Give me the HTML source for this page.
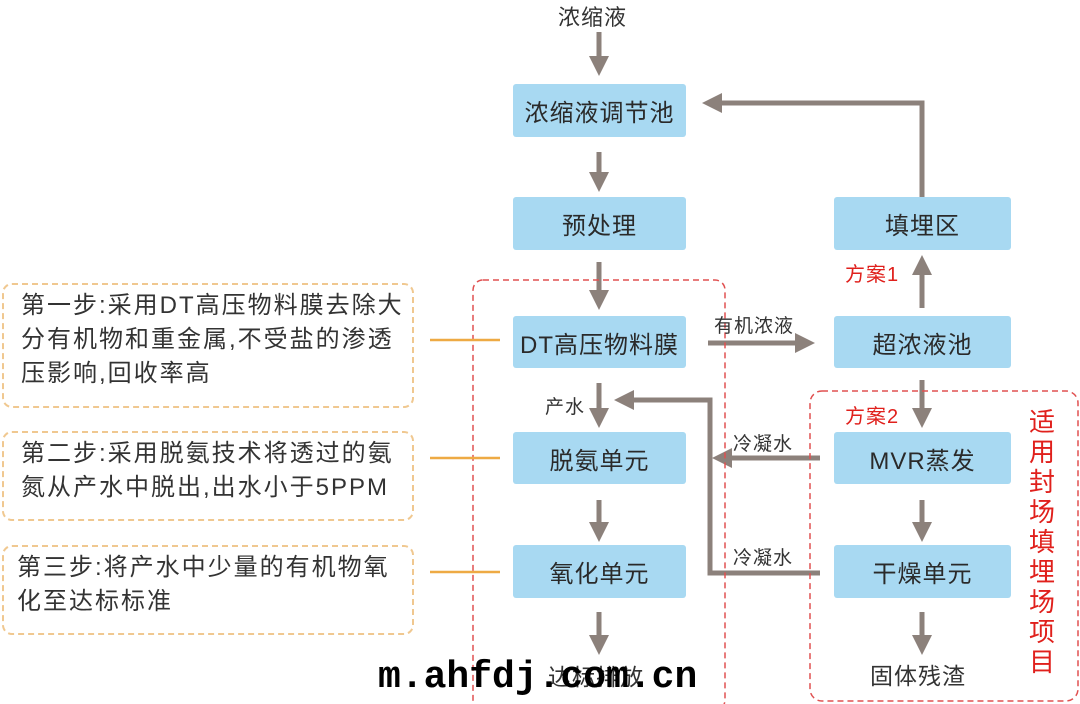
<!DOCTYPE html>
<html><head><meta charset="utf-8"><style>
body{margin:0;width:1080px;height:704px;background:#fff;overflow:hidden;position:relative;font-family:"Liberation Sans","Noto Sans CJK SC",sans-serif;color:#333}
.b{position:absolute;background:#a8d9f2;border-radius:3px;display:flex;align-items:center;justify-content:center;font-size:24px;color:#2a2a2a;letter-spacing:1px}
.l{width:173px;left:513px}.r{width:177px;left:834px}
.t{position:absolute;font-size:19px;color:#333;white-space:nowrap;letter-spacing:1px}
.red{color:#e0201c}
.o{position:absolute;left:2px;width:412px;border:2px dashed #f0c890;border-radius:10px;font-size:24px;line-height:34px;box-sizing:border-box;padding:4px 0 0 17px;color:#333;letter-spacing:2px;white-space:nowrap}
</style></head><body>
<svg width="1080" height="704" style="position:absolute;left:0;top:0">
<defs><marker id="a" markerWidth="4" markerHeight="4" refX="2" refY="2" orient="auto" markerUnits="strokeWidth"><path d="M0,0L4,2L0,4Z" fill="#8c817b"/></marker></defs>
<g stroke="#8c817b" stroke-width="5" fill="none" marker-end="url(#a)">
<line x1="599" y1="32" x2="599" y2="66"/>
<line x1="599" y1="152" x2="599" y2="182"/>
<line x1="599" y1="262" x2="599" y2="300"/>
<line x1="599" y1="383" x2="599" y2="418"/>
<line x1="599" y1="500" x2="599" y2="532"/>
<line x1="599" y1="612" x2="599" y2="645"/>
<polyline points="922,197 922,103 712,103"/>
<line x1="922" y1="308" x2="922" y2="265"/>
<line x1="708" y1="343" x2="805" y2="343"/>
<line x1="922" y1="380" x2="922" y2="418"/>
<line x1="820" y1="458" x2="722" y2="458"/>
<polyline points="820,573 710,573 710,400 624,400"/>
<line x1="922" y1="500" x2="922" y2="532"/>
<line x1="922" y1="612" x2="922" y2="645"/>
</g>
<g stroke="#e05050" stroke-width="1.5" fill="none" stroke-dasharray="6,4">
<rect x="473" y="280" width="252" height="430" rx="10"/>
<rect x="810" y="391" width="268" height="310" rx="12"/>
</g>
<g stroke="#eeaa44" stroke-width="2.5">
<line x1="430" y1="340" x2="500" y2="340"/><line x1="430" y1="458" x2="500" y2="458"/><line x1="430" y1="572" x2="500" y2="572"/>
</g>
</svg>
<div class="t" style="left:558px;top:0px;font-size:22px">浓缩液</div>
<div class="b l" style="top:84px;height:53px">浓缩液调节池</div>
<div class="b l" style="top:197px;height:53px">预处理</div>
<div class="b l" style="top:316px;height:52px">DT高压物料膜</div>
<div class="b l" style="top:432px;height:52px">脱氨单元</div>
<div class="b l" style="top:545px;height:53px">氧化单元</div>
<div class="b r" style="top:197px;height:53px">填埋区</div>
<div class="b r" style="top:316px;height:52px">超浓液池</div>
<div class="b r" style="top:432px;height:52px">MVR蒸发</div>
<div class="b r" style="top:545px;height:53px">干燥单元</div>
<div class="t" style="left:548px;top:658px;font-size:23px">达标排放</div>
<div class="t" style="left:870px;top:657px;font-size:23px">固体残渣</div>
<div class="t" style="left:545px;top:392px">产水</div>
<div class="t" style="left:714px;top:311px">有机浓液</div>
<div class="t" style="left:733px;top:429px">冷凝水</div>
<div class="t" style="left:733px;top:543px">冷凝水</div>
<div class="t red" style="left:845px;top:258px;font-size:20px">方案1</div>
<div class="t red" style="left:845px;top:400px;font-size:20px">方案2</div>
<div class="t red" style="left:1029px;top:407px;font-size:26px;line-height:30px;white-space:normal;width:28px;letter-spacing:0">适用封场填埋场项目</div>
<div class="o" style="top:283px;height:125px">第一步:采用DT高压物料膜去除大<br>分有机物和重金属,不受盐的渗透<br>压影响,回收率高</div>
<div class="o" style="top:431px;height:90px">第二步:采用脱氨技术将透过的氨<br>氮从产水中脱出,出水小于5PPM</div>
<div class="o" style="top:545px;height:90px;padding-left:13px">第三步:将产水中少量的有机物氧<br>化至达标标准</div>
<div style="position:absolute;left:378px;top:656px;font-family:'Liberation Mono',monospace;font-weight:bold;font-size:38px;color:#000">m.ahfdj.com.cn</div>
</body></html>
